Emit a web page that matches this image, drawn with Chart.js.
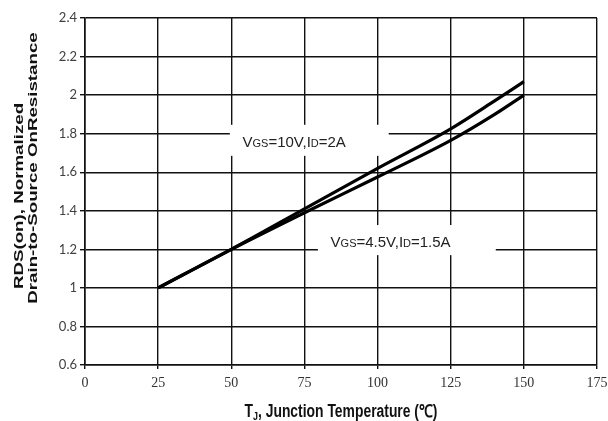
<!DOCTYPE html>
<html>
<head>
<meta charset="utf-8">
<script src="https://cdn.jsdelivr.net/npm/chart.js@4.4.1/dist/chart.umd.min.js"></script>
<style>
  html, body { margin: 0; padding: 0; background: #fff; }
  #wrap { width: 608px; height: 421px; position: relative; }
</style>
</head>
<body>
<div id="wrap"><canvas id="c" width="608" height="421"></canvas></div>
<script>
// ---- data ----
const temperatures = [25, 50, 75, 100, 125, 140, 150];
const rdsVgs10 = [1.0, 1.2, 1.41, 1.62, 1.825, 1.97, 2.07];
const rdsVgs45 = [1.0, 1.2, 1.39, 1.575, 1.765, 1.90, 2.0];
const seriesNames = ['VGS=10V,ID=2A', 'VGS=4.5V,ID=1.5A'];
const xTicks = [0, 25, 50, 75, 100, 125, 150, 175];
const yTicks = [0.6, 0.8, 1.0, 1.2, 1.4, 1.6, 1.8, 2.0, 2.2, 2.4];
const yTitleLines = ['RDS(on), Normalized', 'Drain-to-Source OnResistance'];
const xTitleParts = ['T', 'J', ', Junction Temperature (\u2103)'];

const toPts = (xs, ys) => xs.map((t, i) => ({ x: t, y: ys[i] }));

const curveLabels = {
  id: 'curveLabels',
  beforeDatasetsDraw(chart, args, opts) {
    const { ctx, scales: { x, y } } = chart;
    opts.boxes.forEach(b => {
      const l = x.getPixelForValue(b.x1), r = x.getPixelForValue(b.x2);
      const t = y.getPixelForValue(b.yTop), bt = y.getPixelForValue(b.yBottom);
      ctx.save();
      ctx.fillStyle = '#ffffff';
      ctx.fillRect(l, t, r - l, bt - t);
      ctx.fillStyle = '#222';
      ctx.textBaseline = 'alphabetic';
      let cx = l + 12.7;
      const base = (t + bt) / 2 + 6.7;
      b.parts.forEach(p => {
        ctx.font = (p.small ? '11px' : '15px') + ' "Liberation Sans", Arial, sans-serif';
        ctx.fillText(p.t, cx, base);
        cx += ctx.measureText(p.t).width;
      });
      ctx.restore();
    });
  },
  afterDraw(chart) {
    const { ctx, chartArea } = chart;
    // x-axis title with subscript J
    ctx.save();
    ctx.fillStyle = '#111';
    ctx.textBaseline = 'alphabetic';
    const big = 'bold 14px "Liberation Sans", Arial, sans-serif';
    const small = 'bold 9px "Liberation Sans", Arial, sans-serif';
    const fonts = [big, small, big];
    const shifts = [0, 3, 0];
    const widths = xTitleParts.map((s, i) => { ctx.font = fonts[i]; return ctx.measureText(s).width; });
    const total = widths.reduce((a, b) => a + b, 0);
    const target = 193;
    const cxm = (chartArea.left + chartArea.right) / 2;
    const base = chartArea.bottom + 51.5;
    ctx.translate(cxm - target / 2, base);
    ctx.scale(target / total, 1.25);
    let px = 0;
    xTitleParts.forEach((s, i) => {
      ctx.font = fonts[i];
      ctx.fillText(s, px, shifts[i]);
      px += widths[i];
    });
    ctx.restore();

    // y-axis title, two lines, stretched along the axis
    ctx.save();
    ctx.fillStyle = '#111';
    ctx.textAlign = 'center';
    ctx.textBaseline = 'middle';
    ctx.font = 'bold 13px "Liberation Sans", Arial, sans-serif';
    const xs = [19.5, 33];
    const cys = [196, 168];
    yTitleLines.forEach((s, i) => {
      ctx.save();
      ctx.translate(xs[i], cys[i]);
      ctx.rotate(-Math.PI / 2);
      ctx.scale(1.44, 1);
      ctx.fillText(s, 0, 0);
      ctx.restore();
    });
    ctx.restore();
  }
};

new Chart(document.getElementById('c'), {
  type: 'line',
  data: {
    datasets: [
      { label: seriesNames[0], data: toPts(temperatures, rdsVgs10), borderColor: '#000', borderWidth: 3.2,
        pointRadius: 0, cubicInterpolationMode: 'monotone', fill: false },
      { label: seriesNames[1], data: toPts(temperatures, rdsVgs45), borderColor: '#000', borderWidth: 3.2,
        pointRadius: 0, cubicInterpolationMode: 'monotone', fill: false }
    ]
  },
  options: {
    responsive: false,
    animation: false,
    devicePixelRatio: 1,
    layout: { padding: { top: 18, right: 11, bottom: 0, left: 0 } },
    plugins: {
      legend: { display: false },
      tooltip: { enabled: false },
      curveLabels: {
        boxes: [
          { x1: 49.5, x2: 103.8, yTop: 1.846, yBottom: 1.685,
            parts: [{ t: 'V' }, { t: 'GS', small: true }, { t: '=10V,I' }, { t: 'D', small: true }, { t: '=2A' }] },
          { x1: 79.6, x2: 140.4, yTop: 1.326, yBottom: 1.170,
            parts: [{ t: 'V' }, { t: 'GS', small: true }, { t: '=4.5V,I' }, { t: 'D', small: true }, { t: '=1.5A' }] }
        ]
      }
    },
    scales: {
      x: {
        type: 'linear', min: 0, max: 175,
        afterBuildTicks: s => { s.ticks = xTicks.map(v => ({ value: v })); },
        afterFit: s => { s.height = 56; s.paddingLeft = 0; s.paddingRight = 0; },
        grid: { color: '#111', lineWidth: 1.4, tickLength: 4, drawTicks: true },
        border: { color: '#111', width: 1.6 },
        ticks: { color: '#333', font: { family: '"Liberation Serif", "DejaVu Serif", serif', size: 14 }, padding: 6, maxRotation: 0,
                 callback: v => String(v) }
      },
      y: {
        type: 'linear', min: 0.6, max: 2.4,
        afterBuildTicks: s => { s.ticks = yTicks.map(v => ({ value: v })); },
        afterFit: s => { s.width = 85; s.paddingTop = 0; s.paddingBottom = 0; },
        grid: { color: '#111', lineWidth: 1.4, tickLength: 5, drawTicks: true },
        border: { color: '#111', width: 1.6 },
        ticks: { color: '#404040', font: { family: 'Lato, "Open Sans", sans-serif', size: 13 }, padding: 3,
                 callback: v => String(Number(v.toFixed(1))) },
        title: { display: false }
      }
    }
  },
  plugins: [curveLabels]
});
</script>
</body>
</html>
